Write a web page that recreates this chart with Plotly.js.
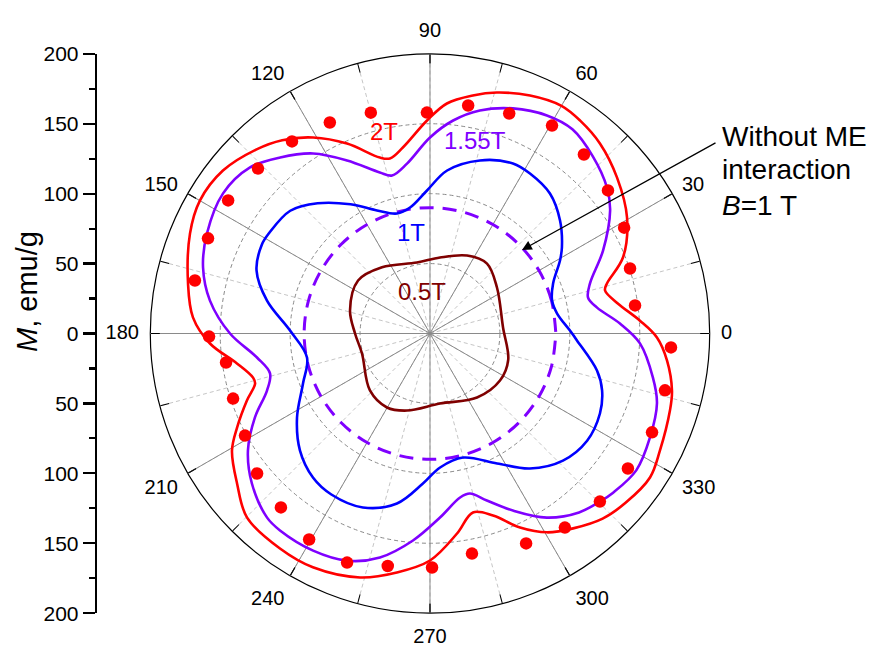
<!DOCTYPE html>
<html>
<head>
<meta charset="utf-8">
<script src="https://cdn.plot.ly/plotly-3.0.1.min.js"></script>
<style>html,body{margin:0;padding:0;background:#fff;}#chart{width:874px;height:646px;}</style>
</head>
<body>
<div id="chart"></div>
<script>
// ---- data ----
const angleTicks = [0, 30, 60, 90, 120, 150, 180, 210, 240, 270, 300, 330];
const angleTickText = ['0', '30', '60', '90', '120', '150', '180', '210', '240', '270', '300', '330'];
const radialGrid = [50, 100, 150];
const mTickVals = [-200, -150, -100, -50, 0, 50, 100, 150, 200];
const mTickText = ['200', '150', '100', '50', '0', '50', '100', '150', '200'];
const mMinorVals = [-175, -125, -75, -25, 25, 75, 125, 175];

// 2T curve
const theta2T = [3.5, 9.1, 13.8, 15.8, 21.5, 30.5, 39.8, 48.2, 54.8, 60, 67.2, 74.5, 79.8, 85.8, 90.8, 98.3, 102.9, 105.9, 113.6, 120.8, 127.4, 133.4, 141.8, 150, 157.4, 168.3, 176.1, 182.6, 188.8, 194, 196, 200.1, 206, 210.6, 217.9, 225.2, 235.1, 243.4, 254, 262.1, 270, 277.7, 283.5, 289.1, 294.9, 300.5, 306.3, 313, 319.2, 326.8, 333, 342.2, 346.7, 353.5, 359];
const r2T = [150.4, 136, 128.9, 131.5, 148.3, 163.5, 174.1, 182.3, 186.3, 188, 184.6, 178.8, 172.9, 164.9, 152.3, 134.4, 128.4, 130.8, 148.2, 163.2, 174, 181, 188.4, 190, 185.9, 176.7, 169.9, 157.5, 139.7, 130.4, 130.1, 139.4, 153.5, 164.5, 174.8, 185.6, 187.5, 187, 181.5, 172.5, 162.3, 144.3, 131.6, 137.7, 152.9, 165, 172.9, 181, 185, 188, 184.5, 180.2, 177.8, 170.6, 162.3];

// 1.55T curve
const theta155T = [3, 8.8, 12.8, 17.4, 25.6, 34.3, 39.5, 47.4, 55.1, 61.8, 69.8, 77.4, 83.8, 90, 97.7, 103.5, 107.3, 115.6, 123, 130.4, 137.3, 145.9, 155.8, 163.8, 171.5, 180, 187.9, 194, 199.3, 205.6, 212.7, 220.1, 228.5, 232.7, 241.7, 250.1, 257.4, 265.3, 273.1, 280.4, 284, 288.8, 295.1, 302.4, 309.8, 315.5, 319, 326.5, 334.7, 342.9, 348.8, 357.3];
const r155T = [136, 120.9, 115.9, 119.9, 137.2, 155.9, 164, 172, 178, 176.9, 171.5, 163.4, 153.2, 140.2, 122.6, 116.2, 120.6, 137.2, 153.5, 165.3, 175.1, 178.7, 174.8, 169, 159.1, 143, 124.9, 117.9, 123.5, 138.8, 154.7, 166.5, 175.8, 177, 176.3, 172.8, 164.1, 148.5, 131.8, 119.2, 117.9, 126.2, 139.8, 155.9, 166.5, 171, 173.5, 177, 174, 169.8, 162.5, 150.3];

// 1T curve
const theta1T = [1.2, 8.9, 15.1, 22.1, 29.3, 33.1, 41, 49.4, 58, 64, 73.9, 84, 91.2, 99, 105.4, 113.3, 121.6, 130.8, 138.7, 148, 152.1, 160, 168.6, 178.8, 191, 201.5, 212.3, 222, 230.9, 238.5, 248.9, 259, 267.3, 274.3, 284.9, 297.3, 306.5, 316.3, 325.7, 334.8, 341.7, 347.5, 357.3];
const r1T = [100.1, 92, 90.4, 95, 106.6, 112.6, 123.2, 131.8, 134.9, 135.3, 128.8, 117.2, 102.3, 91.2, 89, 95.8, 108.5, 123, 133, 135.6, 136, 132, 118.9, 100.1, 89.6, 97.6, 112.5, 125.1, 132.7, 135, 133.3, 123.8, 107.4, 96.1, 91.8, 104.6, 120.1, 131.5, 136, 134.3, 129.6, 122.3, 105.2];

// 0.5T curve
const theta05T = [4.7, 34.5, 50.8, 64.6, 82.5, 100.4, 125.9, 143.6, 164, 180, 196.4, 223.5, 239.8, 253.4, 278.1, 306.3, 326.1, 341.4];
const r05T = [52.4, 58.1, 64.5, 61.7, 54.8, 51.6, 58.5, 63.9, 59.5, 53.6, 50.7, 59.2, 61.2, 57.5, 50.6, 56.8, 60.3, 59];

// Without ME interaction, B = 1 T (dashed circle)
const thetaNoME = [0, 15, 30, 45, 60, 75, 90, 105, 120, 135, 150, 165, 180, 195, 210, 225, 240, 255, 270, 285, 300, 315, 330, 345, 360];
const rNoME = [90, 90, 90, 90, 90, 90, 90, 90, 90, 90, 90, 90, 90, 90, 90, 90, 90, 90, 90, 90, 90, 90, 90, 90, 90];

// measured points (dots)
const thetaDots = [7.8, 18, 28.6, 38.8, 49.3, 59.6, 70.2, 80.5, 90.8, 105, 115.4, 125.7, 136.2, 146.6, 156.8, 167.3, 180.8, 188.1, 198.3, 208.9, 219, 229.4, 239.6, 250.1, 259.7, 270.5, 280.8, 294.6, 304.8, 315.3, 325.7, 336, 346.4, 356.7];
const rDots = [148, 150.4, 158.1, 163.3, 168.8, 172.4, 167.2, 165.3, 158, 163.5, 167, 169.1, 170.4, 172.9, 172.7, 172.3, 158, 147.3, 148.3, 151.1, 159.1, 163.8, 170.8, 174.2, 169, 167.3, 160.2, 165.1, 169, 170.9, 171.3, 173.8, 172.9, 172.6];

// ---- drawing ----
const FONT = 'Liberation Sans, Arial, Helvetica, sans-serif';
function closed(a) { return a.concat([a[0]]); }
function curve(th, r, color, width, dash) {
  return {
    type: 'scatterpolar', subplot: 'polar2', mode: 'lines',
    theta: closed(th), r: closed(r),
    line: {color: color, width: width, shape: 'spline', smoothing: 1, dash: dash || 'solid'},
    hoverinfo: 'skip'
  };
}

const traces = [
  {type: 'scatter', x: [null], y: [null], xaxis: 'x', yaxis: 'y', mode: 'markers', hoverinfo: 'skip'},
  {type: 'scatterpolar', subplot: 'polar', theta: [null], r: [null], mode: 'markers', hoverinfo: 'skip'},
  {type: 'scatterpolar', subplot: 'polar3', theta: [null], r: [null], mode: 'markers', hoverinfo: 'skip'},
  curve(thetaNoME, rNoME, '#7f00ff', 3, '14px,9px'),
  curve(theta05T, r05T, '#7f0000', 2.6),
  curve(theta1T, r1T, '#0000ff', 2.6),
  curve(theta155T, r155T, '#7f00ff', 2.6),
  curve(theta2T, r2T, '#ff0000', 2.6),
  {type: 'scatterpolar', subplot: 'polar2', mode: 'markers', theta: thetaDots, r: rDots,
   marker: {color: '#ff0000', size: 12.5, line: {width: 0}}, hoverinfo: 'skip'}
];

const dom = {x: [0.17197, 0.81201], y: [0.05077, 0.91672]};
const domLabels = {x: [0.15961, 0.82437], y: [0.03638, 0.93576]};

const layout = {
  width: 874, height: 646,
  margin: {l: 0, r: 0, t: 0, b: 0},
  paper_bgcolor: '#ffffff', plot_bgcolor: 'rgba(0,0,0,0)',
  showlegend: false,
  font: {family: FONT, color: '#000000', size: 20},
  xaxis: {domain: [0.172, 0.812], range: [0, 1], visible: false},
  yaxis: {
    domain: dom.y, range: [-200, 200], anchor: 'free', position: 0.1095,
    showline: true, linecolor: '#000', linewidth: 2.5,
    ticks: 'outside', ticklen: 12, tickwidth: 2.2, tickcolor: '#000',
    tickmode: 'array', tickvals: mTickVals, ticktext: mTickText,
    tickfont: {size: 21, family: FONT, color: '#000'},
    showgrid: false, zeroline: false, fixedrange: true,
    minor: {tickmode: 'array', tickvals: mMinorVals, ticks: 'outside', ticklen: 6, tickwidth: 2.2, tickcolor: '#000', showgrid: false}
  },
  polar: {
    domain: dom, bgcolor: '#ffffff',
    radialaxis: {range: [0, 200], tickmode: 'array', tickvals: radialGrid, showticklabels: false, ticks: '',
                 showline: false, gridcolor: '#8a8a8a', gridwidth: 1, griddash: '4px,3px'},
    angularaxis: {tickmode: 'linear', tick0: 0, dtick: 15, showticklabels: false, ticks: 'inside', ticklen: 9,
                  tickwidth: 1, tickcolor: '#000', showline: true, linecolor: '#000', linewidth: 1.2,
                  gridcolor: '#c6c6c6', gridwidth: 1, griddash: '4px,3px'}
  },
  polar2: {
    domain: dom, bgcolor: 'rgba(0,0,0,0)',
    radialaxis: {range: [0, 200], visible: false, showgrid: false},
    angularaxis: {tickmode: 'array', tickvals: angleTicks, ticktext: angleTickText, ticks: 'inside', ticklen: 9,
                  tickwidth: 1, tickcolor: '#000', showline: false, showticklabels: false,
                  gridcolor: '#8a8a8a', gridwidth: 1}
  },
  polar3: {
    domain: domLabels, bgcolor: 'rgba(0,0,0,0)',
    radialaxis: {range: [0, 200], visible: false, showgrid: false},
    angularaxis: {tickmode: 'array', tickvals: angleTicks, ticktext: angleTickText, ticks: '',
                  showline: false, showgrid: false,
                  tickfont: {size: 20, family: FONT, color: '#000'}}
  },
  annotations: [
    {xref: 'paper', yref: 'paper', x: 384 / 874, y: 1 - 131 / 646, text: '2T', showarrow: false,
     font: {size: 24, color: '#ff0000', family: FONT}, xanchor: 'center', yanchor: 'middle'},
    {xref: 'paper', yref: 'paper', x: 475 / 874, y: 1 - 141 / 646, text: '1.55T', showarrow: false,
     font: {size: 24, color: '#7f00ff', family: FONT}, xanchor: 'center', yanchor: 'middle'},
    {xref: 'paper', yref: 'paper', x: 411 / 874, y: 1 - 233 / 646, text: '1T', showarrow: false,
     font: {size: 24, color: '#0000ff', family: FONT}, xanchor: 'center', yanchor: 'middle'},
    {xref: 'paper', yref: 'paper', x: 422 / 874, y: 1 - 291 / 646, text: '0.5T', showarrow: false,
     font: {size: 24, color: '#7f0000', family: FONT}, xanchor: 'center', yanchor: 'middle'},
    {xref: 'paper', yref: 'paper', x: 720 / 874, y: 1 - 136 / 646, text: 'Without ME',
     showarrow: false, align: 'left', xanchor: 'left', yanchor: 'middle',
     font: {size: 28, color: '#000', family: FONT}},
    {xref: 'paper', yref: 'paper', x: 720 / 874, y: 1 - 170 / 646, text: 'interaction',
     showarrow: false, align: 'left', xanchor: 'left', yanchor: 'middle',
     font: {size: 28, color: '#000', family: FONT}},
    {xref: 'paper', yref: 'paper', x: 720 / 874, y: 1 - 205 / 646, text: '<i>B</i>=1 T',
     showarrow: false, align: 'left', xanchor: 'left', yanchor: 'middle',
     font: {size: 28, color: '#000', family: FONT}},
    {xref: 'paper', yref: 'paper', x: 522 / 874, y: 1 - 250 / 646, ax: 195, ay: -108, axref: 'pixel', ayref: 'pixel',
     text: '', showarrow: true, arrowhead: 2, arrowsize: 1.5, arrowwidth: 1.3, arrowcolor: '#000', standoff: 0, startstandoff: 0},
    {xref: 'paper', yref: 'paper', x: 27 / 874, y: 1 - 292 / 646, text: '<i>M</i>, emu/g', showarrow: false,
     textangle: -90, xanchor: 'center', yanchor: 'middle', font: {size: 29, color: '#000', family: FONT}}
  ]
};

Plotly.newPlot('chart', traces, layout, {staticPlot: true, displayModeBar: false});
</script>
</body>
</html>
